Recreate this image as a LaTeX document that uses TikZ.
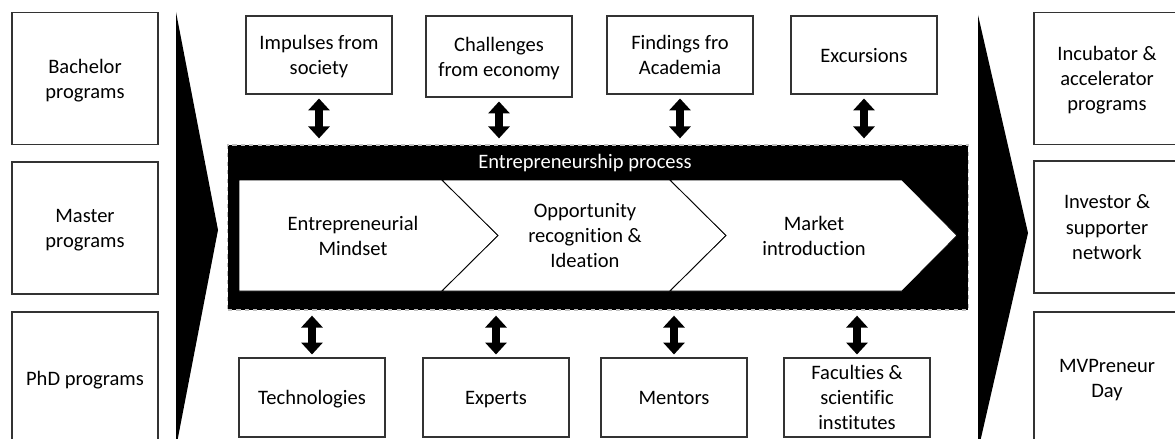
\documentclass[tikz,border=0pt]{standalone}
\usepackage{fontspec}
\setmainfont{Carlito}[Ligatures=NoCommon]
\usetikzlibrary{arrows.meta}

\begin{document}
\begin{tikzpicture}[
        x=0.025cm, y=-0.025cm,
        every node/.style={font=\fontsize{14.6}{17.8}\selectfont, align=center, text depth=-1.5pt},
        box/.style={draw=black!80, line width=0.8pt, fill=white, inner sep=0pt, minimum width=3.65cm},
        sidebox/.style={box, minimum height=3.3cm},
        topbox/.style={box, minimum height=1.95cm},
        stage/.style={fill=white, draw=black, line width=0.6pt},
        wedge/.style={fill=black},
        dblarrow/.style={{Triangle[width=15pt, length=8.5pt]}-{Triangle[width=15pt, length=8.5pt]}, line width=5.5pt}
    ]
        \useasboundingbox (0,0) rectangle (1175,439);

        % Study programs
        \node[sidebox] (bach) at (85, 78.5) {Bachelor\\programs};
        \node[sidebox] (mast) at (85, 228) {Master\\programs};
        \node[sidebox, minimum height=3.3cm] (phd) at (85, 378) {PhD programs};

        % Big wedges
        \fill[wedge] (176,12) -- (218,230) -- (176,448) -- cycle;
        \fill[wedge] (978,15) -- (1028,233) -- (978,451) -- cycle;

        % Process
        \node[fill=black, draw=gray!50, dashed, line width=0.8pt, minimum width=18.5cm, minimum height=4.125cm] (proc) at (598, 227.5) {};
        \node[text=white] (title) at (585, 161) {Entrepreneurship process};
        \draw[stage] (239,180) -- (442,180) -- (498,235.5) -- (442,291) -- (239,291) -- cycle;
        \draw[stage] (442,180) -- (670,180) -- (726,235.5) -- (670,291) -- (442,291) -- (498,235.5) -- cycle;
        \draw[stage] (670,180) -- (902,180) -- (957,235.5) -- (902,291) -- (670,291) -- (726,235.5) -- cycle;
        \node (mind) at (353, 235.5) {Entrepreneurial\\Mindset};
        \node (opp) at (585, 235.5) {Opportunity\\recognition \&\\Ideation};
        \node (mark) at (814, 235.5) {Market\\introduction};

        % Inputs on top
        \node[topbox] (imp) at (319, 55) {Impulses from\\society};
        \node[topbox, minimum height=2.025cm] (chal) at (499, 56.5) {Challenges\\from economy};
        \node[topbox] (find) at (680, 55) {Findings fro\\Academia};
        \node[topbox] (exc) at (864, 55) {Excursions};

        % Support below
        \node[topbox, minimum height=1.975cm] (tech) at (312, 397.5) {Technologies};
        \node[topbox, minimum height=1.975cm] (exp) at (496, 397.5) {Experts};
        \node[topbox, minimum height=1.975cm] (ment) at (674, 397.5) {Mentors};
        \node[topbox, minimum height=1.975cm] (fac) at (857, 397.5) {Faculties \&\\scientific\\institutes};

        % Outcomes
        \node[sidebox] (incu) at (1107, 78.5) {Incubator \&\\accelerator\\programs};
        \node[sidebox] (inv) at (1107, 227) {Investor \&\\supporter\\network};
        \node[sidebox] (mvp) at (1107, 378) {MVPreneur\\Day};

        % Arrows
        \foreach \n in {imp, chal, find, exc}
            \draw[dblarrow, shorten <=2.8pt, shorten >=4.3pt] (\n.south) -- (\n.south |- proc.north);
        \foreach \n in {tech, exp, ment, fac}
            \draw[dblarrow, shorten <=2.1pt, shorten >=3.6pt] (\n.north) -- (\n.north |- proc.south);

    \end{tikzpicture}
\end{document}
